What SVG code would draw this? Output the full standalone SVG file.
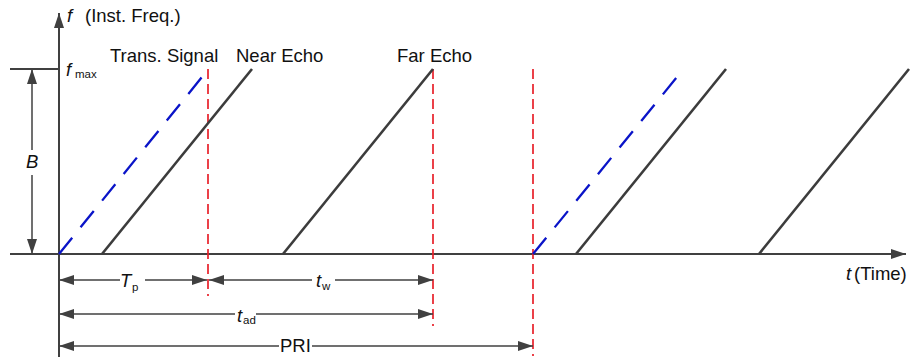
<svg xmlns="http://www.w3.org/2000/svg" width="914" height="362" viewBox="0 0 914 362">
<style>
text{font-family:"Liberation Sans",Arial,sans-serif;font-size:18.5px;fill:#111}
.it{font-style:italic}
.sub{font-size:11.5px}
.ax{stroke:#404040;stroke-width:2;fill:none}
.dim{stroke:#404040;stroke-width:1.5;fill:none}
.echo{stroke:#3c3c3c;stroke-width:2.6;fill:none}
.tx{stroke:#0a14c8;stroke-width:2.3;fill:none;stroke-dasharray:21 13.3}
.red{stroke:#e8202a;stroke-width:1.7;fill:none;stroke-dasharray:10 5}
</style>
<defs>
<marker id="ah" markerUnits="userSpaceOnUse" markerWidth="16" markerHeight="11" refX="15" refY="5" orient="auto-start-reverse">
<path d="M0,0 L15,5 L0,10 z" fill="#404040"/>
</marker>
</defs>
<g id="axes">
<line class="ax" x1="59" y1="357" x2="59" y2="13" marker-end="url(#ah)"/>
<line class="ax" x1="10" y1="254" x2="906" y2="254" marker-end="url(#ah)"/>
<line class="ax" x1="10" y1="69" x2="59" y2="69"/>
<text x="67" y="22" class="it">f</text>
<text x="85" y="22">(Inst. Freq.)</text>
<text x="66" y="76" class="it">f</text>
<text x="75" y="78" class="sub">max</text>
<text x="846" y="280" class="it">t</text>
<text x="854" y="280">(Time)</text>
</g>
<g id="markers-red">
<line class="red" x1="208" y1="69" x2="208" y2="296"/>
<line class="red" x1="433" y1="69" x2="433" y2="326"/>
<line class="red" x1="533" y1="69" x2="533" y2="356"/>
</g>
<g id="signals">
<line class="tx" x1="59" y1="254" x2="202" y2="77"/>
<line class="echo" x1="102" y1="254" x2="252" y2="69"/>
<line class="echo" x1="283" y1="254" x2="433" y2="69"/>
<line class="tx" x1="533" y1="254" x2="677" y2="77"/>
<line class="echo" x1="576" y1="254" x2="726" y2="69"/>
<line class="echo" x1="759" y1="254" x2="909" y2="69"/>
</g>
<g id="labels">
<text x="110" y="62">Trans. Signal</text>
<text x="236" y="62">Near Echo</text>
<text x="397" y="62">Far Echo</text>
</g>
<g id="connectors">
<line class="dim" x1="32" y1="150" x2="32" y2="69" marker-end="url(#ah)"/>
<line class="dim" x1="32" y1="175" x2="32" y2="254" marker-end="url(#ah)"/>
<line class="dim" x1="120" y1="280" x2="59" y2="280" marker-end="url(#ah)"/>
<line class="dim" x1="145" y1="280" x2="207" y2="280" marker-end="url(#ah)"/>
<line class="dim" x1="312" y1="280" x2="209" y2="280" marker-end="url(#ah)"/>
<line class="dim" x1="335" y1="280" x2="433" y2="280" marker-end="url(#ah)"/>
<line class="dim" x1="235" y1="314" x2="59" y2="314" marker-end="url(#ah)"/>
<line class="dim" x1="256" y1="314" x2="433" y2="314" marker-end="url(#ah)"/>
<line class="dim" x1="279" y1="346" x2="59" y2="346" marker-end="url(#ah)"/>
<line class="dim" x1="312" y1="346" x2="533" y2="346" marker-end="url(#ah)"/>
</g>
<g id="dim-labels">
<text x="26" y="168" class="it">B</text>
<text x="120" y="287" class="it">T</text>
<text x="132" y="291" class="sub">p</text>
<text x="316" y="287" class="it">t</text>
<text x="322" y="290" class="sub">w</text>
<text x="237" y="322" class="it">t</text>
<text x="243" y="324" class="sub">ad</text>
<text x="280" y="352">PRI</text>
</g>
</svg>
